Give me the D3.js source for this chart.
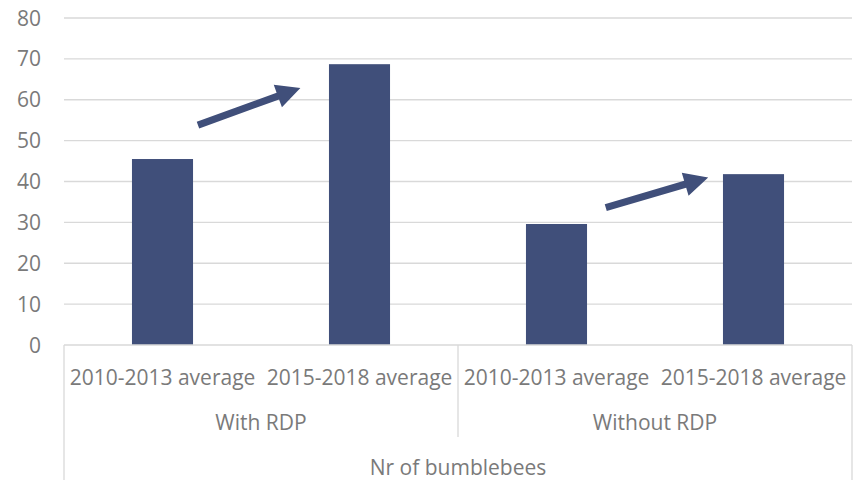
<!DOCTYPE html>
<html>
<head>
<meta charset="utf-8">
<script src="https://cdn.jsdelivr.net/npm/d3@7"></script>
<style>
  body { margin: 0; background: #fff; }
  text { font-family: "Open Sans", sans-serif; fill: #7a7a7a; }
</style>
</head>
<body>
<svg id="chart"></svg>
<script>
// data
const groups     = ['With RDP', 'Without RDP']
const periods    = ['2010-2013 average', '2015-2018 average']
const values     = [45.5, 68.7, 29.6, 41.8]
const yTicks     = [0, 10, 20, 30, 40, 50, 60, 70, 80]
const axisTitle  = 'Nr of bumblebees'

// one row per bar
const bars = values.map((v, i) => ({
    key: i,
    group: groups[Math.floor(i / periods.length)],
    period: periods[i % periods.length],
    value: v
}))

const width   = 856
const height  = 480
const plotL   = 64
const plotR   = 852
const plotT   = 18
const base    = 345
const fs      = 21

const svg = d3.select('#chart')
    .attr('width', width)
    .attr('height', height)

const x = d3.scaleBand()
    .domain(bars.map(d => d.key))
    .range([plotL, plotR])
    .paddingInner(0.69)
    .paddingOuter(0.345)

const y = d3.scaleLinear()
    .domain([0, 80])
    .range([base, plotT])

// gridlines
svg.append('g')
    .selectAll('line')
    .data(yTicks.filter(t => t > 0))
    .enter()
    .append('line')
    .attr('x1', plotL).attr('x2', plotR)
    .attr('y1', d => y(d)).attr('y2', d => y(d))
    .attr('stroke', '#d9d9d9')
    .attr('stroke-width', 1.3)

// y tick labels
svg.append('g')
    .selectAll('text')
    .data(yTicks)
    .enter()
    .append('text')
    .attr('x', 41)
    .attr('y', d => y(d))
    .attr('dy', '0.36em')
    .attr('text-anchor', 'end')
    .attr('font-size', fs)
    .text(d => d)

// bars
svg.append('g')
    .selectAll('rect')
    .data(bars)
    .enter()
    .append('rect')
    .attr('x', d => x(d.key))
    .attr('width', x.bandwidth())
    .attr('y', d => y(d.value))
    .attr('height', d => base - y(d.value))
    .attr('fill', '#404f7a')

// category axis frame
const step = x.step()
const groupEdge = i => plotL + i * step * periods.length
const frame = svg.append('g')
    .attr('stroke', '#d9d9d9')
    .attr('stroke-width', 1.3)
    .attr('fill', 'none')

frame.append('line')
    .attr('x1', plotL).attr('x2', plotR)
    .attr('y1', base).attr('y2', base)
frame.append('line')
    .attr('x1', plotL).attr('x2', plotL)
    .attr('y1', base).attr('y2', height)
frame.append('line')
    .attr('x1', plotR).attr('x2', plotR)
    .attr('y1', base).attr('y2', height)
frame.append('line')
    .attr('x1', groupEdge(1)).attr('x2', groupEdge(1))
    .attr('y1', base).attr('y2', 437)

// period labels
svg.append('g')
    .selectAll('text')
    .data(bars)
    .enter()
    .append('text')
    .attr('x', d => x(d.key) + x.bandwidth() / 2)
    .attr('y', 377)
    .attr('dy', '0.36em')
    .attr('text-anchor', 'middle')
    .attr('font-size', fs)
    .text(d => d.period)

// group labels
svg.append('g')
    .selectAll('text')
    .data(groups)
    .enter()
    .append('text')
    .attr('x', (d, i) => (groupEdge(i) + groupEdge(i + 1)) / 2)
    .attr('y', 422)
    .attr('dy', '0.36em')
    .attr('text-anchor', 'middle')
    .attr('font-size', fs)
    .text(d => d)

svg.append('text')
    .attr('x', (plotL + plotR) / 2)
    .attr('y', 467)
    .attr('dy', '0.36em')
    .attr('text-anchor', 'middle')
    .attr('font-size', fs)
    .text(axisTitle)

// arrows between the two periods of each group (x as fraction of a step from group middle)
const arrows = [
    { from: 53.8, to: 62.9, g: 0, x0: -0.32, x1: 0.20 },
    { from: 33.6, to: 41.0, g: 1, x0: -0.25, x1: 0.27 }
]

// block arrow outline from (x1,y1) to tip (x2,y2)
const arrowPath = (x1, y1, x2, y2) => {
    const len = Math.hypot(x2 - x1, y2 - y1)
    const a = Math.atan2(y2 - y1, x2 - x1)
    const shaft = 3.6, head = 12, headLen = 24
    const pts = [
        [0, -shaft], [len - headLen, -shaft], [len - headLen, -head],
        [len, 0], [len - headLen, head], [len - headLen, shaft], [0, shaft]
    ].map(([u, v]) => [
        x1 + u * Math.cos(a) - v * Math.sin(a),
        y1 + u * Math.sin(a) + v * Math.cos(a)
    ])
    return d3.line()(pts) + 'Z'
}

svg.append('g')
    .selectAll('path')
    .data(arrows)
    .enter()
    .append('path')
    .attr('d', d => arrowPath(
        groupEdge(d.g) + step * (1 + d.x0), y(d.from),
        groupEdge(d.g) + step * (1 + d.x1), y(d.to)))
    .attr('fill', '#404f7a')
</script>
</body>
</html>
